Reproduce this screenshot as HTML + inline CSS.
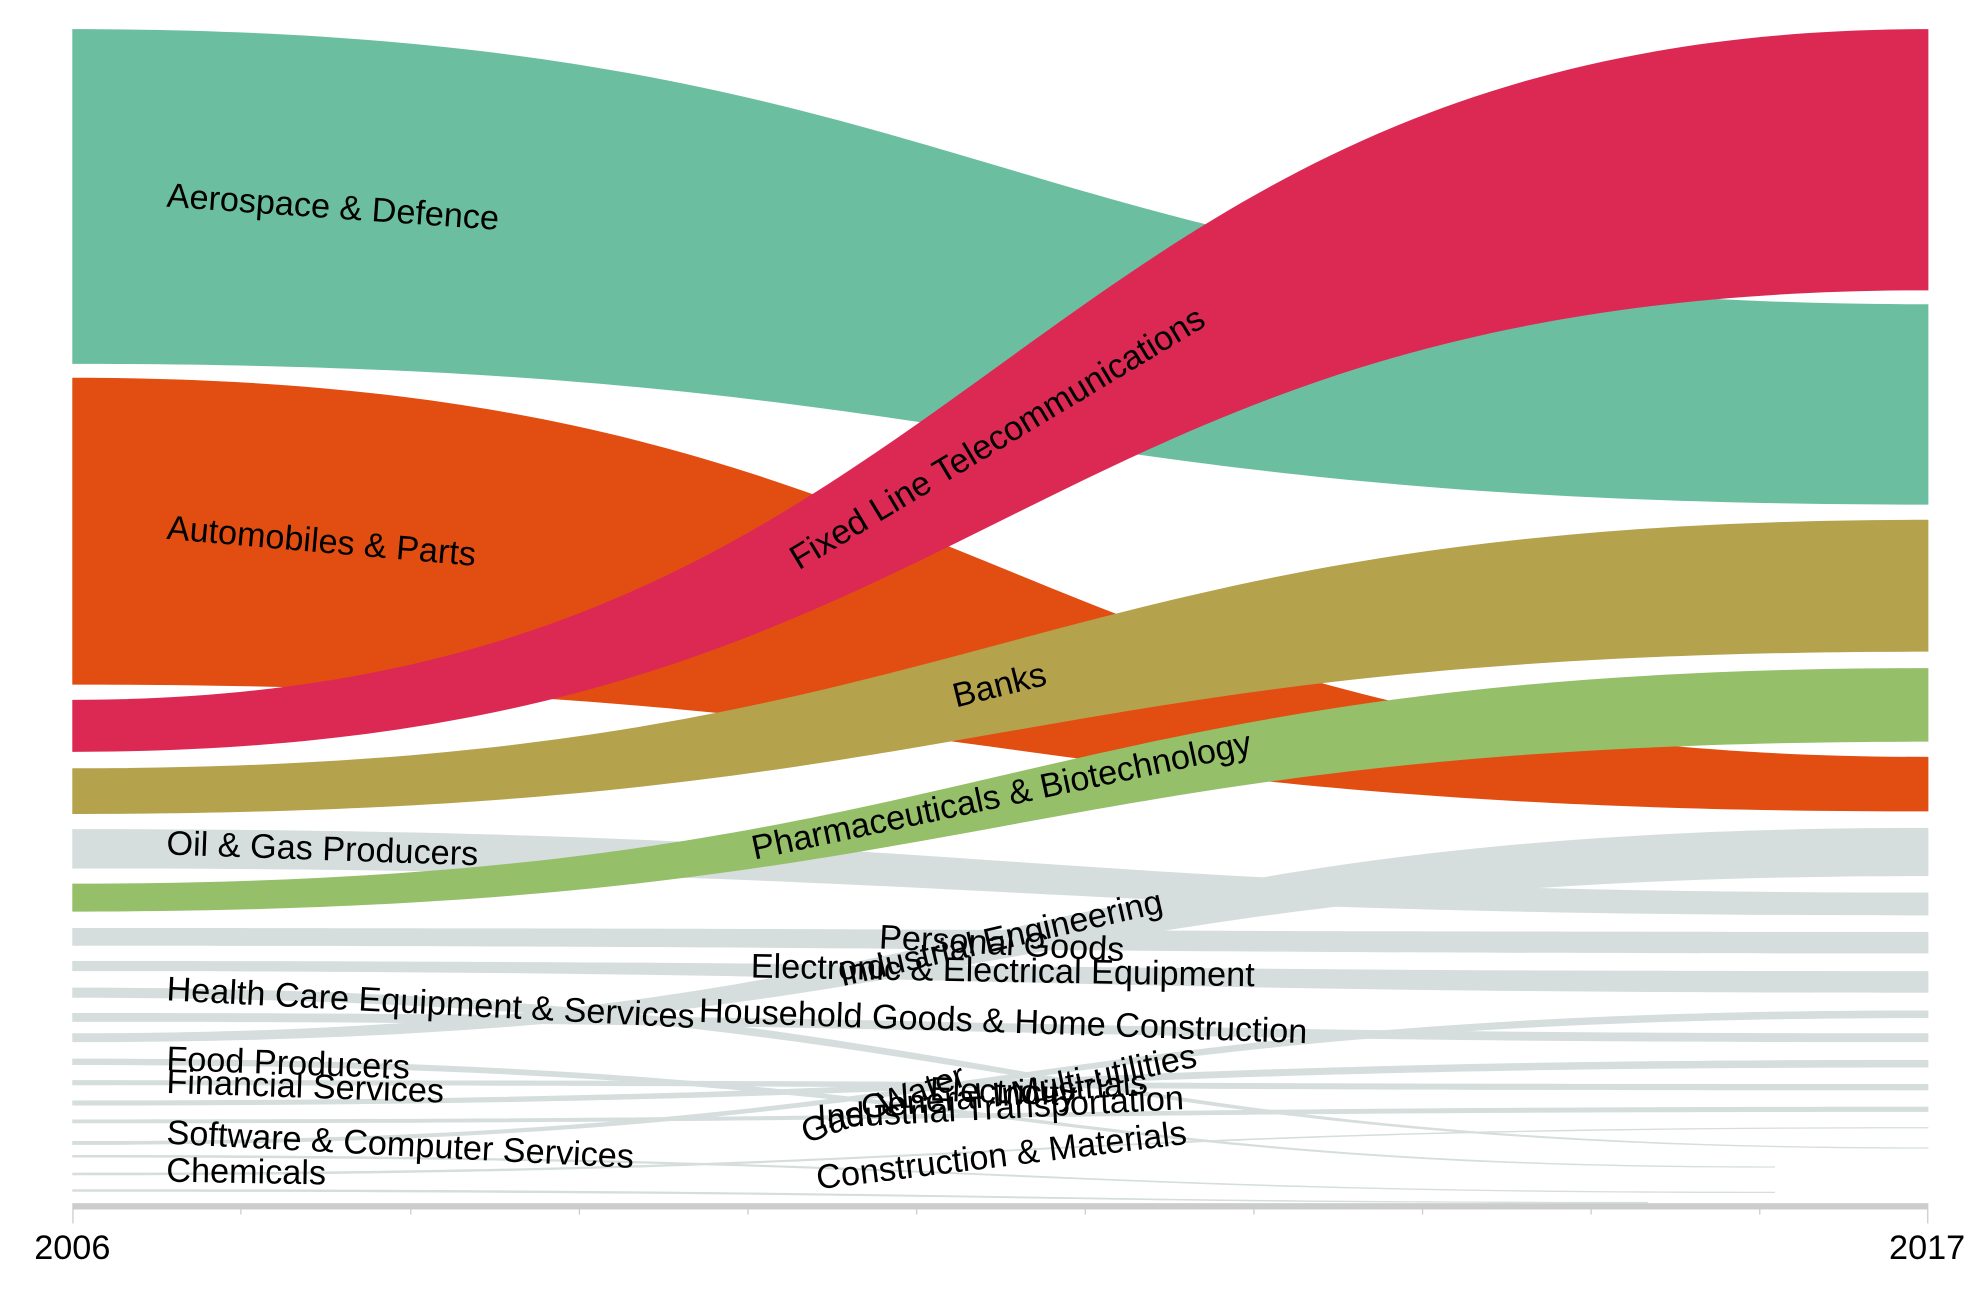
<!DOCTYPE html>
<html><head><meta charset="utf-8"><style>
html,body{margin:0;padding:0;background:#fff;}
svg{display:block;}
text{font-family:"Liberation Sans",Arial,sans-serif;font-size:27px;fill:#000;}
</style></head><body>
<svg width="1988" height="1316" viewBox="0 0 1568 1038" xmlns="http://www.w3.org/2000/svg">
<g fill="#d5dddd">
<path d="M57,654 C789,654 789,704 1521,704 L1521,722 C789,722 789,685 57,685 Z"/>
<path d="M57,732 C789,732 789,735 1521,735 L1521,752 C789,752 789,746 57,746 Z"/>
<path d="M57,758 C789,758 789,766 1521,766 L1521,783 C789,783 789,766 57,766 Z"/>
<path d="M57,779 C789,779 789,905 1521,905 L1521,906 C789,906 789,787 57,787 Z"/>
<path d="M57,799 C789,799 789,815 1521,815 L1521,822 C789,822 789,806 57,806 Z"/>
<path d="M57,815 C789,815 789,653 1521,653 L1521,691 C789,691 789,822 57,822 Z"/>
<path d="M57,835 C789,835 789,920 1400,920 L1400,921 C789,921 789,840 57,840 Z"/>
<path d="M57,852 C789,852 789,855 1521,855 L1521,860 C789,860 789,856 57,856 Z"/>
<path d="M57,868 C789,868 789,836 1521,836 L1521,842 C789,842 789,872 57,872 Z"/>
<path d="M57,883 C789,883 789,873 1521,873 L1521,877 C789,877 789,886 57,886 Z"/>
<path d="M57,900 C789,900 789,797 1521,797 L1521,803 C789,803 789,903 57,903 Z"/>
<path d="M57,911 C789,911 789,940 1400,940 L1400,941 C789,941 789,913 57,913 Z"/>
<path d="M57,925 C789,925 789,889 1521,889 L1521,890 C789,890 789,927 57,927 Z"/>
<path d="M57,938 C789,938 789,948 1300,948 L1300,949 C789,949 789,940 57,940 Z"/>
</g>
<path fill="#6bbfa0" d="M57,23 C789,23 789,240 1521,240 L1521,398 C789,398 789,287 57,287 Z"/>
<path fill="#e24e12" d="M57,298 C789,298 789,597 1521,597 L1521,640 C789,640 789,540 57,540 Z"/>
<path fill="#dc2954" d="M57,552 C789,552 789,23 1521,23 L1521,229 C789,229 789,593 57,593 Z"/>
<path fill="#b5a24c" d="M57,606 C789,606 789,410 1521,410 L1521,514 C789,514 789,642 57,642 Z"/>
<path fill="#95bf69" d="M57,697 C789,697 789,527 1521,527 L1521,585 C789,585 789,719 57,719 Z"/>
<rect x="57" y="949" width="1464" height="5" fill="#cccccc"/>
<g stroke="#cccccc" stroke-width="1">
<line x1="57.5" y1="954" x2="57.5" y2="965"/>
<line x1="190" y1="954" x2="190" y2="958"/><line x1="324" y1="954" x2="324" y2="958"/>
<line x1="457" y1="954" x2="457" y2="958"/><line x1="590" y1="954" x2="590" y2="958"/>
<line x1="723" y1="954" x2="723" y2="958"/><line x1="856" y1="954" x2="856" y2="958"/>
<line x1="989" y1="954" x2="989" y2="958"/><line x1="1122" y1="954" x2="1122" y2="958"/>
<line x1="1255" y1="954" x2="1255" y2="958"/><line x1="1388" y1="954" x2="1388" y2="958"/>
<line x1="1520.5" y1="954" x2="1520.5" y2="965"/>
</g>
<text x="57" y="993" text-anchor="middle">2006</text>
<text x="1520" y="993" text-anchor="middle">2017</text>
<text transform="translate(131,163) rotate(4)">Aerospace &amp; Defence</text>
<text transform="translate(131,425) rotate(5)">Automobiles &amp; Parts</text>
<text transform="translate(630,450) rotate(-31)">Fixed Line Telecommunications</text>
<text transform="translate(754,558) rotate(-14)">Banks</text>
<text transform="translate(595,678) rotate(-12)">Pharmaceuticals &amp; Biotechnology</text>
<text transform="translate(131,674) rotate(2)">Oil &amp; Gas Producers</text>
<text transform="translate(693,748) rotate(3)">Personal Goods</text>
<text transform="translate(664,778) rotate(-13)">Industrial Engineering</text>
<text transform="translate(592,771) rotate(1)">Electronic &amp; Electrical Equipment</text>
<text transform="translate(131,789) rotate(3)">Health Care Equipment &amp; Services</text>
<text transform="translate(551,806) rotate(2)">Household Goods &amp; Home Construction</text>
<text transform="translate(131,844) rotate(2)">Food Producers</text>
<text transform="translate(131,862) rotate(2)">Financial Services</text>
<text transform="translate(733,868) rotate(2)">Electricity</text>
<text transform="translate(800,872) rotate(-12)">Multi-utilities</text>
<text transform="translate(680,882) rotate(-5)">General Industrials</text>
<text transform="translate(645,890) rotate(-3)">Industrial Transportation</text>
<text transform="translate(636,902) rotate(-20)">Gas, Water</text>
<text transform="translate(131,902) rotate(3)">Software &amp; Computer Services</text>
<text transform="translate(131,932) rotate(1)">Chemicals</text>
<text transform="translate(645,938) rotate(-7)">Construction &amp; Materials</text>
</svg>
</body></html>
